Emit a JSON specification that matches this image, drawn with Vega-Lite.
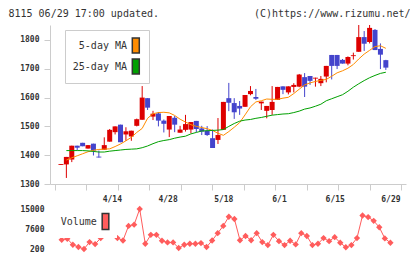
{
  "$schema": "https://vega.github.io/schema/vega-lite/v6.json",
  "autosize": {"type": "pad"},
  "padding": {"left": 8, "top": 8, "right": 0, "bottom": 0},
  "bounds": "flush",
  "spacing": 25,
  "resolve": {"scale": {"fill": "independent"}, "legend": {"fill": "independent"}},
  "config": {
    "view": {"stroke": null},
    "font": "DejaVu Sans Mono",
    "axis": {
      "grid": false,
      "domainColor": "#ccc",
      "tickColor": "#ccc",
      "labelColor": "#333",
      "labelFont": "DejaVu Sans Mono",
      "labelFontSize": 8,
      "labelFontWeight": "bold",
      "labelOverlap": false,
      "tickCount": 40,
      "titleFont": "DejaVu Sans Mono",
      "titleFontSize": 10,
      "titleFontWeight": "normal",
      "titleColor": "#333"
    },
    "legend": {
      "labelFont": "DejaVu Sans Mono",
      "labelFontSize": 10,
      "labelColor": "#333"
    }
  },
  "datasets": {
    "prices": [
      {"date": "3/31", "open": 1366, "high": 1369, "low": 1366, "close": 1369, "ma5": null, "ma25": null, "volume": null},
      {"date": "4/1", "open": 1368, "high": 1394, "low": 1321, "close": 1394, "ma5": 1383, "ma25": 1416, "volume": 3600},
      {"date": "4/4", "open": 1385, "high": 1433, "low": 1376, "close": 1433, "ma5": 1391, "ma25": 1416, "volume": 3970},
      {"date": "4/5", "open": 1433, "high": 1433, "low": 1417, "close": 1426, "ma5": 1398, "ma25": 1416, "volume": 1775},
      {"date": "4/6", "open": 1443, "high": 1443, "low": 1431, "close": 1431, "ma5": 1405, "ma25": 1416, "volume": 930},
      {"date": "4/7", "open": 1423, "high": 1435, "low": 1423, "close": 1435, "ma5": 1412, "ma25": 1415, "volume": 200},
      {"date": "4/8", "open": 1440, "high": 1440, "low": 1399, "close": 1416, "ma5": 1417, "ma25": 1413, "volume": 2760},
      {"date": "4/11", "open": 1395, "high": 1416, "low": 1392, "close": 1392, "ma5": 1420, "ma25": 1411, "volume": 2030},
      {"date": "4/12", "open": 1419, "high": 1462, "low": 1419, "close": 1435, "ma5": 1421, "ma25": 1411, "volume": 4230},
      {"date": "4/13", "open": 1447, "high": 1491, "low": 1447, "close": 1488, "ma5": 1422, "ma25": 1414, "volume": 8000},
      {"date": "4/14", "open": 1480, "high": 1500, "low": 1472, "close": 1500, "ma5": 1430, "ma25": 1416, "volume": 10200},
      {"date": "4/15", "open": 1506, "high": 1506, "low": 1445, "close": 1445, "ma5": 1439, "ma25": 1418, "volume": 4230},
      {"date": "4/18", "open": 1472, "high": 1497, "low": 1450, "close": 1483, "ma5": 1450, "ma25": 1420, "volume": 3350},
      {"date": "4/19", "open": 1465, "high": 1485, "low": 1450, "close": 1485, "ma5": 1462, "ma25": 1421, "volume": 8740},
      {"date": "4/20", "open": 1502, "high": 1527, "low": 1500, "close": 1525, "ma5": 1479, "ma25": 1422, "volume": 9200},
      {"date": "4/21", "open": 1523, "high": 1640, "low": 1523, "close": 1600, "ma5": 1493, "ma25": 1426, "volume": 15000},
      {"date": "4/22", "open": 1598, "high": 1598, "low": 1557, "close": 1565, "ma5": 1528, "ma25": 1432, "volume": 2140},
      {"date": "4/25", "open": 1534, "high": 1554, "low": 1522, "close": 1544, "ma5": 1544, "ma25": 1440, "volume": 5440},
      {"date": "4/26", "open": 1545, "high": 1550, "low": 1500, "close": 1520, "ma5": 1548, "ma25": 1447, "volume": 5440},
      {"date": "4/27", "open": 1520, "high": 1524, "low": 1479, "close": 1509, "ma5": 1549, "ma25": 1451, "volume": 3240},
      {"date": "4/28", "open": 1489, "high": 1536, "low": 1463, "close": 1536, "ma5": 1547, "ma25": 1454, "volume": 2620},
      {"date": "5/2", "open": 1530, "high": 1536, "low": 1480, "close": 1506, "ma5": 1538, "ma25": 1459, "volume": 2620},
      {"date": "5/6", "open": 1478, "high": 1502, "low": 1478, "close": 1489, "ma5": 1525, "ma25": 1463, "volume": 570},
      {"date": "5/9", "open": 1488, "high": 1540, "low": 1482, "close": 1508, "ma5": 1515, "ma25": 1466, "volume": 1775},
      {"date": "5/10", "open": 1489, "high": 1515, "low": 1476, "close": 1515, "ma5": 1506, "ma25": 1474, "volume": 2140},
      {"date": "5/11", "open": 1519, "high": 1519, "low": 1480, "close": 1491, "ma5": 1500, "ma25": 1479, "volume": 2140},
      {"date": "5/12", "open": 1493, "high": 1502, "low": 1470, "close": 1482, "ma5": 1496, "ma25": 1484, "volume": 2400},
      {"date": "5/13", "open": 1485, "high": 1501, "low": 1467, "close": 1470, "ma5": 1492, "ma25": 1485, "volume": 930},
      {"date": "5/16", "open": 1459, "high": 1489, "low": 1425, "close": 1425, "ma5": 1486, "ma25": 1486, "volume": 3350},
      {"date": "5/17", "open": 1453, "high": 1529, "low": 1439, "close": 1470, "ma5": 1476, "ma25": 1487, "volume": 6060},
      {"date": "5/18", "open": 1488, "high": 1585, "low": 1488, "close": 1585, "ma5": 1469, "ma25": 1489, "volume": 8740},
      {"date": "5/19", "open": 1598, "high": 1651, "low": 1553, "close": 1582, "ma5": 1482, "ma25": 1500, "volume": 12140},
      {"date": "5/20", "open": 1581, "high": 1598, "low": 1526, "close": 1549, "ma5": 1497, "ma25": 1510, "volume": 11300},
      {"date": "5/23", "open": 1571, "high": 1588, "low": 1540, "close": 1562, "ma5": 1513, "ma25": 1518, "volume": 3450},
      {"date": "5/24", "open": 1568, "high": 1609, "low": 1568, "close": 1609, "ma5": 1540, "ma25": 1522, "volume": 5000},
      {"date": "5/25", "open": 1612, "high": 1640, "low": 1608, "close": 1623, "ma5": 1568, "ma25": 1524, "volume": 3450},
      {"date": "5/26", "open": 1602, "high": 1630, "low": 1592, "close": 1596, "ma5": 1585, "ma25": 1528, "volume": 6060},
      {"date": "5/27", "open": 1580, "high": 1586, "low": 1557, "close": 1586, "ma5": 1589, "ma25": 1531, "volume": 2760},
      {"date": "5/30", "open": 1554, "high": 1571, "low": 1528, "close": 1571, "ma5": 1595, "ma25": 1535, "volume": 1650},
      {"date": "5/31", "open": 1557, "high": 1640, "low": 1540, "close": 1585, "ma5": 1594, "ma25": 1539, "volume": 5440},
      {"date": "6/1", "open": 1592, "high": 1637, "low": 1592, "close": 1637, "ma5": 1594, "ma25": 1541, "volume": 3100},
      {"date": "6/2", "open": 1639, "high": 1639, "low": 1612, "close": 1627, "ma5": 1598, "ma25": 1543, "volume": 1650},
      {"date": "6/3", "open": 1618, "high": 1639, "low": 1611, "close": 1639, "ma5": 1601, "ma25": 1544, "volume": 3240},
      {"date": "6/6", "open": 1637, "high": 1650, "low": 1618, "close": 1644, "ma5": 1614, "ma25": 1548, "volume": 1900},
      {"date": "6/7", "open": 1638, "high": 1682, "low": 1636, "close": 1680, "ma5": 1629, "ma25": 1553, "volume": 6060},
      {"date": "6/8", "open": 1671, "high": 1685, "low": 1602, "close": 1638, "ma5": 1644, "ma25": 1560, "volume": 5000},
      {"date": "6/9", "open": 1675, "high": 1675, "low": 1644, "close": 1658, "ma5": 1651, "ma25": 1564, "volume": 1650},
      {"date": "6/10", "open": 1666, "high": 1669, "low": 1638, "close": 1669, "ma5": 1656, "ma25": 1570, "volume": 2140},
      {"date": "6/13", "open": 1650, "high": 1675, "low": 1640, "close": 1665, "ma5": 1660, "ma25": 1577, "volume": 4230},
      {"date": "6/14", "open": 1673, "high": 1710, "low": 1653, "close": 1710, "ma5": 1663, "ma25": 1589, "volume": 3100},
      {"date": "6/15", "open": 1748, "high": 1748, "low": 1663, "close": 1710, "ma5": 1674, "ma25": 1596, "volume": 4590},
      {"date": "6/16", "open": 1748, "high": 1748, "low": 1699, "close": 1710, "ma5": 1686, "ma25": 1603, "volume": 2500},
      {"date": "6/17", "open": 1731, "high": 1734, "low": 1718, "close": 1718, "ma5": 1693, "ma25": 1610, "volume": 860},
      {"date": "6/20", "open": 1718, "high": 1743, "low": 1712, "close": 1741, "ma5": 1702, "ma25": 1622, "volume": 1650},
      {"date": "6/21", "open": 1744, "high": 1756, "low": 1732, "close": 1747, "ma5": 1715, "ma25": 1636, "volume": 4230},
      {"date": "6/22", "open": 1759, "high": 1852, "low": 1759, "close": 1810, "ma5": 1734, "ma25": 1648, "volume": 12600},
      {"date": "6/23", "open": 1810, "high": 1831, "low": 1762, "close": 1787, "ma5": 1751, "ma25": 1659, "volume": 12000},
      {"date": "6/24", "open": 1793, "high": 1852, "low": 1788, "close": 1842, "ma5": 1764, "ma25": 1669, "volume": 10620},
      {"date": "6/27", "open": 1835, "high": 1838, "low": 1765, "close": 1765, "ma5": 1777, "ma25": 1677, "volume": 8260},
      {"date": "6/28", "open": 1769, "high": 1788, "low": 1699, "close": 1749, "ma5": 1780, "ma25": 1684, "volume": 4100},
      {"date": "6/29", "open": 1730, "high": 1731, "low": 1696, "close": 1704, "ma5": 1771, "ma25": 1688, "volume": 2500}
    ]
  },
  "vconcat": [
    {
      "width": 356,
      "height": 159,
      "data": {"name": "prices"},
      "transform": [{"window": [{"op": "row_number", "as": "day"}]}],
      "encoding": {
        "x": {
          "field": "day",
          "type": "quantitative",
          "scale": {"domain": [-0.1, 63.8], "nice": false, "zero": false},
          "axis": {
            "values": [-0.1, 5.709, 11.518, 17.327, 23.136, 28.945, 34.755, 40.564, 46.373, 52.182, 57.991, 63.8],
            "tickCount": 40,
            "labels": false,
            "tickSize": 6,
            "title": "(C)https://www.rizumu.net/",
            "titleAngle": 0,
            "titleAlign": "right",
            "titleBaseline": "middle",
            "titleX": 360,
            "titleY": -171
          }
        }
      },
      "layer": [
        {
          "mark": {"type": "rule", "strokeWidth": 1},
          "encoding": {
            "y": {
              "field": "low",
              "type": "quantitative",
              "scale": {"domain": [1300, 1852], "nice": false, "zero": false},
              "axis": {
                "values": [1300, 1400, 1500, 1600, 1700, 1800],
                "tickCount": 40,
                "format": "d",
                "tickSize": 6,
                "labelPadding": 5,
                "labelOverlap": false,
                "title": "8115 06/29 17:00 updated.",
                "titleAngle": 0,
                "titleAlign": "left",
                "titleBaseline": "middle",
                "titleX": -42,
                "titleY": -12
              }
            },
            "y2": {"field": "high"},
            "color": {"condition": {"test": "datum.close >= datum.open", "value": "#dd0000"}, "value": "#4444cc"}
          }
        },
        {
          "mark": {"type": "bar", "size": 5},
          "encoding": {
            "y": {"field": "open", "type": "quantitative"},
            "y2": {"field": "close"},
            "color": {"condition": {"test": "datum.close >= datum.open", "value": "#dd0000"}, "value": "#4444cc"}
          }
        },
        {
          "mark": {"type": "line", "stroke": "#ff8c00", "strokeWidth": 1},
          "encoding": {"y": {"field": "ma5", "type": "quantitative"}}
        },
        {
          "mark": {"type": "line", "stroke": "#00a000", "strokeWidth": 1},
          "encoding": {"y": {"field": "ma25", "type": "quantitative"}}
        },
        {
          "transform": [{"filter": "false"}],
          "mark": {"type": "point", "shape": "square", "filled": true, "opacity": 1},
          "encoding": {
            "y": {"field": "ma5", "type": "quantitative"},
            "fill": {
              "datum": "5-day MA",
              "scale": {"domain": ["5-day MA", "25-day MA"], "range": ["#ff8c00", "#00a000"]},
              "legend": {
                "orient": "none",
                "legendX": 15,
                "legendY": 5,
                "title": null,
                "symbolType": "M-0.41,-0.88L0.41,-0.88L0.41,0.88L-0.41,0.88Z",
                "symbolSize": 289,
                "symbolStrokeColor": "#333",
                "symbolStrokeWidth": 1.5,
                "symbolOpacity": 1,
                "symbolOffset": 55.3,
                "labelOffset": -18.3,
                "labelAlign": "right",
                "padding": 6,
                "rowPadding": 0,
                "strokeColor": "#ccc",
                "fillColor": "white"
              }
            }
          }
        },
        {
          "transform": [{"filter": "false"}],
          "mark": {"type": "point", "shape": "square", "filled": true, "opacity": 1},
          "encoding": {
            "y": {"field": "ma25", "type": "quantitative"},
            "fill": {"datum": "25-day MA"}
          }
        }
      ]
    },
    {
      "width": 356,
      "height": 40,
      "data": {"name": "prices"},
      "transform": [{"window": [{"op": "row_number", "as": "day"}]}],
      "encoding": {
        "x": {
          "field": "day",
          "type": "quantitative",
          "title": null,
          "scale": {"domain": [-0.1, 63.8], "nice": false, "zero": false},
          "axis": {
            "orient": "top",
            "values": [11, 21, 31, 41, 51, 61],
            "tickCount": 40,
            "labelExpr": "datum.value == 11 ? '4/14' : datum.value == 21 ? '4/28' : datum.value == 31 ? '5/18' : datum.value == 41 ? '6/1' : datum.value == 51 ? '6/15' : '6/29'",
            "ticks": false,
            "domain": false,
            "labelPadding": 6,
            "labelFlush": false
          }
        },
        "y": {
          "field": "volume",
          "type": "quantitative",
          "title": null,
          "scale": {"domain": [200, 15000], "nice": false, "zero": false},
          "axis": {"values": [200, 7600, 15000], "tickCount": 40, "format": "d", "ticks": false, "tickSize": 0, "domain": false, "labelPadding": 6}
        }
      },
      "layer": [
        {
          "mark": {"type": "line", "stroke": "#ff5c5c", "strokeWidth": 1}
        },
        {
          "mark": {"type": "point", "shape": "diamond", "filled": true, "size": 40, "opacity": 1},
          "encoding": {
            "fill": {
              "datum": "Volume",
              "scale": {"domain": ["Volume"], "range": ["#ff5c5c"]},
              "legend": {
                "orient": "none",
                "legendX": 0,
                "legendY": -2,
                "title": null,
                "symbolType": "M-0.39,-0.94L0.39,-0.94L0.39,0.94L-0.39,0.94Z",
                "symbolSize": 289,
                "symbolStrokeColor": "#333",
                "symbolStrokeWidth": 1.5,
                "symbolOpacity": 1,
                "symbolOffset": 41,
                "labelOffset": -18.2,
                "labelAlign": "right",
                "padding": 5,
                "fillColor": "white"
              }
            }
          }
        }
      ]
    }
  ]
}
